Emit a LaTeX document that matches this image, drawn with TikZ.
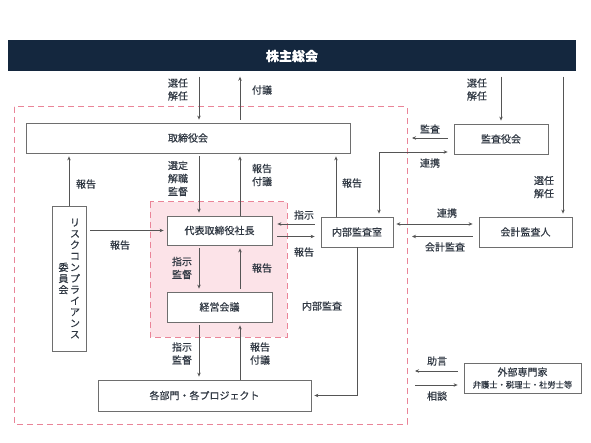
\documentclass[tikz,border=0pt]{standalone}
\usepackage{fontspec}
\setmainfont{Noto Sans CJK JP}[FakeBold=0.4]
\usetikzlibrary{arrows.meta}
\definecolor{navy}{HTML}{14273E}
\definecolor{pinkline}{HTML}{EA8498}
\definecolor{pinkfill}{HTML}{FCE3E8}
\definecolor{boxgray}{HTML}{6E6E6E}
\definecolor{linegray}{HTML}{555555}
\definecolor{txt}{HTML}{2F3742}
\tikzset{
  box/.style={draw=boxgray, line width=0.8pt, fill=white, text=txt, inner sep=0pt,
    font=\fontsize{10}{12}\selectfont},
  lbl/.style={text=txt, align=center, inner sep=0pt, font=\fontsize{10}{13}\selectfont},
  arr/.style={draw=linegray, line width=0.8pt, -{Stealth[length=4pt,width=3.5pt]},
    shorten >=3pt},
  biarr/.style={arr, {Stealth[length=4pt,width=3.5pt]}-{Stealth[length=4pt,width=3.5pt]},
    shorten <=3pt},
  frame/.style={draw=pinkline, line width=1pt, dash pattern=on 6pt off 4pt},
}
\begin{document}
\begin{tikzpicture}[x=1pt,y=-1pt]
	\useasboundingbox (0,0) rectangle (591,443);
	% Dashed frames
	\draw[frame] (14,107) rectangle (407,424);
	\draw[frame, fill=pinkfill] (150,202) rectangle (287,337);
	% Boxes
	\node[fill=navy, text=white, minimum width=568pt, minimum height=31pt,
	  font=\fontsize{13}{15}\selectfont\bfseries] (kabunushi) at (292,56) {株主総会};
	\node[box, minimum width=324pt, minimum height=30pt] (torishimari) at (188,138) {取締役会};
	\node[box, minimum width=94pt, minimum height=30pt] (kansayaku) at (501,139) {監査役会};
	\node[box, minimum width=105pt, minimum height=29pt] (shacho) at (219.5,230.5) {代表取締役社長};
	\node[box, minimum width=72pt, minimum height=30pt] (naibu) at (357,232) {内部監査室};
	\node[box, minimum width=93pt, minimum height=30pt] (kaikei) at (525.5,232) {会計監査人};
	\node[box, minimum width=105pt, minimum height=30pt] (keiei) at (219.5,307) {経営会議};
	\node[box, minimum width=34pt, minimum height=145pt] (risk) at (69,278.5) {};
	\node[lbl, font=\fontsize{10}{11.2}\selectfont] (riskA) at (75,278.5)
	  {リ\\ス\\ク\\コ\\ン\\プ\\ラ\\イ\\ア\\ン\\ス};
	\node[lbl, font=\fontsize{10}{11.2}\selectfont] (riskB) at (63.5,278.5) {委\\員\\会};
	\node[box, minimum width=213pt, minimum height=31pt] (bumon) at (204.5,395.5) {各部門・各プロジェクト};
	\node[box, minimum width=117pt, minimum height=30pt, align=center,
	  font=\fontsize{10}{12}\selectfont] (gaibu) at (522.5,378)
	  {外部専門家\\{\fontsize{8.3}{10}\selectfont 弁護士・税理士・社労士等}};
	% Helper coordinates
	\coordinate (xa) at (199,0);
	\coordinate (xb) at (240,0);
	\coordinate (xc) at (336,0);
	\coordinate (xd) at (379,0);
	\coordinate (xf) at (563,0);
	\coordinate (ya) at (0,224);
	\coordinate (yb) at (0,236.5);
	\coordinate (yc) at (0,152);
	\coordinate (kansaend) at (412,138);
	\coordinate (kaikeiend) at (412,236.5);
	\coordinate (joganend) at (415,371);
	\coordinate (sodanstart) at (415,385);
	% Arrows from the shareholders
	\draw[arr, shorten <=5pt] (kabunushi.south -| xa) -- (torishimari.north -| xa);
	\draw[arr, shorten <=3pt, shorten >=5pt] (torishimari.north -| xb) -- (kabunushi.south -| xb);
	\draw[arr, shorten <=5pt] (kabunushi.south -| kansayaku) -- (kansayaku.north);
	\draw[arr, shorten <=5pt] (kabunushi.south -| xf) -- (kaikei.north -| xf);
	% Board and management
	\draw[arr, shorten <=3pt] (torishimari.south -| xa) -- (shacho.north -| xa);
	\draw[arr] (shacho.north -| xb) -- (torishimari.south -| xb);
	\draw[arr, shorten <=3pt] (shacho.south -| xa) -- (keiei.north -| xa);
	\draw[arr, shorten <=3pt] (keiei.north -| xb) -- (shacho.south -| xb);
	\draw[arr, shorten <=3pt] (keiei.south -| xa) -- (bumon.north -| xa);
	\draw[arr] (bumon.north -| xb) -- (keiei.south -| xb);
	\draw[arr] (risk.north) -- (risk.north |- torishimari.south);
	\draw[arr, shorten <=4pt] (risk.east |- shacho) -- (shacho.west);
	% Internal audit
	\draw[arr, shorten <=6pt, shorten >=5pt] (naibu.west |- ya) -- (shacho.east |- ya);
	\draw[arr, shorten <=5pt, shorten >=6pt] (shacho.east |- yb) -- (naibu.west |- yb);
	\draw[arr] (naibu.north -| xc) -- (torishimari.south -| xc);
	\draw[biarr, shorten >=6pt] (naibu.north -| xd) |- (kansayaku.west |- yc);
	\draw[arr, shorten >=0pt, shorten <=6pt] (kansayaku.west |- kansaend) -- (kansaend);
	\draw[biarr, shorten >=6pt] (naibu.east |- ya) -- (kaikei.west |- ya);
	\draw[arr, shorten >=0pt, shorten <=6pt] (kaikei.west |- kaikeiend) -- (kaikeiend);
	\draw[arr] (naibu.south) |- (bumon.east);
	% Outside experts
	\draw[arr, shorten >=0pt, shorten <=6pt] (gaibu.west |- joganend) -- (joganend);
	\draw[arr, shorten >=6pt] (sodanstart) -- (gaibu.west |- sodanstart);
	% Labels
	\node[lbl] (l1) at (178,89.5) {選任\\解任};
	\node[lbl] (l2) at (262,90) {付議};
	\node[lbl] (l3) at (477,89.5) {選任\\解任};
	\node[lbl] (l4) at (544,187) {選任\\解任};
	\node[lbl] (l5) at (178,178.5) {選定\\解職\\監督};
	\node[lbl] (l6) at (262,175) {報告\\付議};
	\node[lbl] (l7) at (86,184) {報告};
	\node[lbl] (l8) at (120,245) {報告};
	\node[lbl] (l9) at (182,268) {指示\\監督};
	\node[lbl] (l10) at (262,268) {報告};
	\node[lbl] (l11) at (304,215) {指示};
	\node[lbl] (l12) at (304,252) {報告};
	\node[lbl] (l13) at (352,183) {報告};
	\node[lbl] (l14) at (430,129) {監査};
	\node[lbl] (l15) at (430,163) {連携};
	\node[lbl] (l16) at (447,213) {連携};
	\node[lbl] (l17) at (445,247) {会計監査};
	\node[lbl] (l18) at (322,306) {内部監査};
	\node[lbl] (l19) at (182,353.5) {指示\\監督};
	\node[lbl] (l20) at (260,353.5) {報告\\付議};
	\node[lbl] (l21) at (437,361) {助言};
	\node[lbl] (l22) at (437,396) {相談};
\end{tikzpicture}
\end{document}
